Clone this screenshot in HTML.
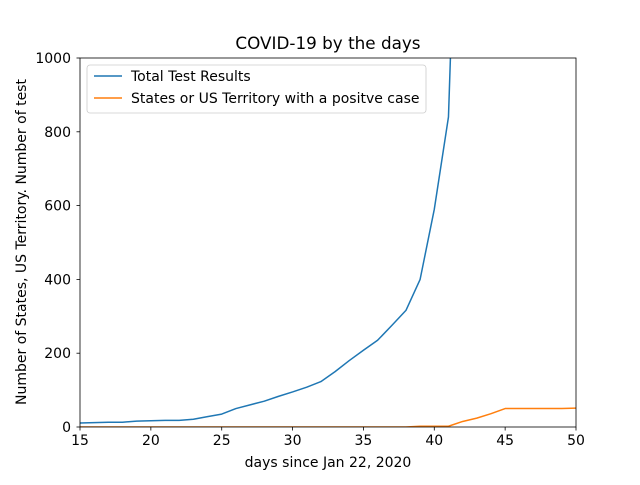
<!DOCTYPE html>
<html><head><meta charset="utf-8"><style>
html,body{margin:0;padding:0;background:#fff;}
svg text{font-family:"DejaVu Sans","Liberation Sans",sans-serif;fill:#000;}
</style></head><body>
<svg id="chart" width="640" height="480" xmlns="http://www.w3.org/2000/svg">
<defs><clipPath id="clip"><rect x="80" y="58" width="496" height="369"/></clipPath></defs>
<rect width="640" height="480" fill="#fff"/>
<text x="328" y="49" font-size="16.8" text-anchor="middle">COVID-19 by the days</text>
<g id="series" clip-path="url(#clip)"></g>
<rect x="80" y="58" width="496" height="369" fill="none" stroke="#000" stroke-width="0.8"/>
<g id="xticks"></g><g id="yticks"></g>
<text x="328" y="467" font-size="14" text-anchor="middle">days since Jan 22, 2020</text>
<text transform="translate(26,242) rotate(-90)" font-size="14" text-anchor="middle">Number of States, US Territory. Number of test</text>
<g>
<rect x="87" y="65" width="339" height="48" rx="3" fill="#fff" fill-opacity="0.8" stroke="#ccc" stroke-width="0.8"/>
<line x1="94" y1="76" x2="122" y2="76" stroke="#1f77b4" stroke-width="1.5"/>
<text x="131" y="81" font-size="14">Total Test Results</text>
<line x1="94" y1="98" x2="122" y2="98" stroke="#ff7f0e" stroke-width="1.5"/>
<text x="131" y="103" font-size="14">States or US Territory with a positve case</text>
</g>
</svg>
<script>
const days = [15,16,17,18,19,20,21,22,23,24,25,26,27,28,29,30,31,32,33,34,35,36,37,38,39,40,41,42,43,44,45,46,47,48,49,50];
const totalTests = [11,12,13,13,16,17,18,18,21,28,35,50,60,70,83,95,108,123,150,180,208,235,275,316,400,590,840,2000];
const positiveStates = [0,0,0,0,0,0,0,0,0,0,0,0,0,0,0,0,0,0,0,0,0,0,0,0,2,2,2,15,24,36,50,50,50,50,50,51];
const xTicks = [15,20,25,30,35,40,45,50];
const yTicks = [0,200,400,600,800,1000];
const NS="http://www.w3.org/2000/svg";
const X0=80,X1=576,Y0=427,Y1=58,xMin=15,xMax=50,yMin=0,yMax=1000;
const xs=v=>X0+(v-xMin)*(X1-X0)/(xMax-xMin);
const ys=v=>Y0-(v-yMin)*(Y0-Y1)/(yMax-yMin);
function mk(tag,attrs,parent){const e=document.createElementNS(NS,tag);for(const k in attrs)e.setAttribute(k,attrs[k]);parent.appendChild(e);return e;}
const series=document.getElementById('series');
function drawLine(vals,color,name){
  const pts=vals.map((v,i)=>xs(days[i]).toFixed(2)+','+ys(v).toFixed(2)).join(' ');
  const p=mk('polyline',{points:pts,fill:'none',stroke:color,'stroke-width':1.5,'stroke-linejoin':'round'},series);
  
  
}
drawLine(totalTests,'#1f77b4','total-tests-line');
drawLine(positiveStates,'#ff7f0e','positive-states-line');
const xg=document.getElementById('xticks');
xTicks.forEach(t=>{
  const x=xs(t);
  const l=mk('line',{x1:x,x2:x,y1:Y0,y2:Y0+3.5,stroke:'#000','stroke-width':0.8},xg);
  
  
  const tx=mk('text',{x:x,y:Y0+18,'font-size':14,'text-anchor':'middle'},xg);
  tx.textContent=t;
  
  
});
const yg=document.getElementById('yticks');
yTicks.forEach(t=>{
  const y=ys(t);
  const l=mk('line',{x1:X0-3.5,x2:X0,y1:y,y2:y,stroke:'#000','stroke-width':0.8},yg);
  
  
  const tx=mk('text',{x:X0-9,y:y+5,'font-size':14,'text-anchor':'end'},yg);
  tx.textContent=t;
  
  
});
</script>
</body></html>
